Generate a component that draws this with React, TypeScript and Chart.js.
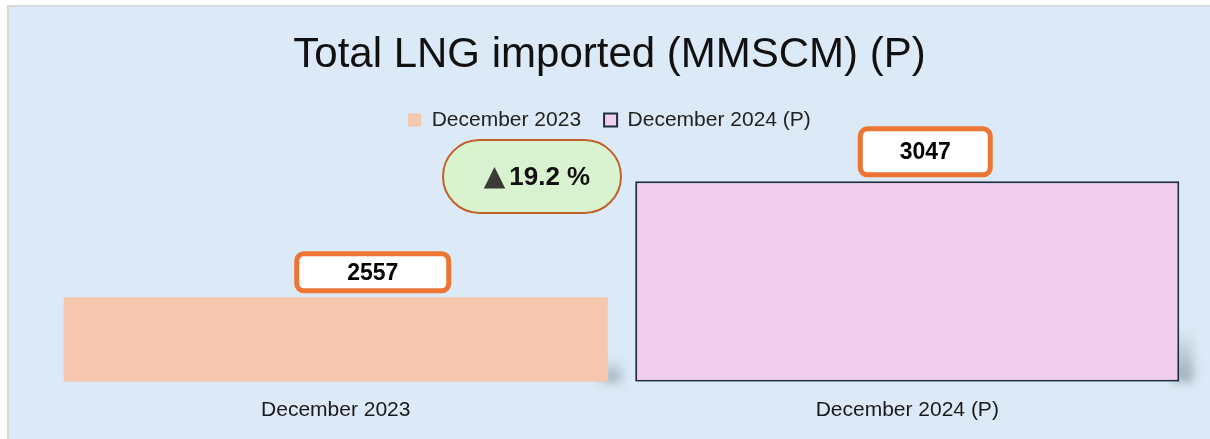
import React, { useEffect, useRef } from "react";
import { Chart, registerables } from "chart.js";

Chart.register(...registerables);

// ---- data ----
const categories = ["December 2023", "December 2024 (P)"];
const seriesNames = ["December 2023", "December 2024 (P)"];
const dec2023Values = [2557, null];
const dec2024Values = [null, 3047];
const chartTitle = "Total LNG imported (MMSCM) (P)";
const yMin = 2200;
const yMax = 3220;

// ---- styles ----
const FONT = "'Liberation Sans', Arial, 'DejaVu Sans', sans-serif";
const barColors = ["#f5c7ae", "#f1cdee"];
const barBorderColors = ["rgba(0,0,0,0)", "#1f2d3d"];
const barBorderWidths = [0, 2];
// label box styles per series (size, horizontal offset from bar centre)
const labelBoxW = [157, 135];
const labelBoxH = [42, 51];
const labelOffsetX = [37, 18];
const labelGap = 4;

const labelPlugin = {
  id: "valueBoxes",
  beforeDatasetsDraw(chart: any) {
    const ctx = chart.ctx;
    chart.data.datasets.forEach((ds: any, di: number) => {
      const meta = chart.getDatasetMeta(di);
      meta.data.forEach((el: any, i: number) => {
        if (ds.data[i] == null) return;
        const h = el.base - el.y;
        const sh = h * 0.26;
        const right = el.x + el.width / 2;
        ctx.save();
        ctx.filter = "blur(5px)";
        const g = ctx.createLinearGradient(0, el.base - sh, 0, el.base);
        g.addColorStop(0, "rgba(90,105,120,0)");
        g.addColorStop(1, "rgba(90,105,120,0.5)");
        ctx.fillStyle = g;
        ctx.fillRect(right - 6, el.base - sh, 20, sh);
        ctx.restore();
      });
    });
  },
  afterDatasetsDraw(chart: any) {
    const ctx = chart.ctx;
    chart.data.datasets.forEach((ds: any, di: number) => {
      const meta = chart.getDatasetMeta(di);
      meta.data.forEach((el: any, i: number) => {
        const v = ds.data[i];
        if (v == null) return;
        const w = labelBoxW[di];
        const h = labelBoxH[di];
        const cx = el.x + labelOffsetX[di];
        const bottom = el.y - labelGap;
        const top = bottom - h;
        const lw = 5;
        ctx.save();
        ctx.beginPath();
        ctx.roundRect(cx - w / 2 + lw / 2, top + lw / 2, w - lw, h - lw, 7);
        ctx.fillStyle = "#ffffff";
        ctx.fill();
        ctx.lineWidth = lw;
        ctx.strokeStyle = "#ed7533";
        ctx.stroke();
        ctx.fillStyle = "#000000";
        ctx.font = `bold 23px ${FONT}`;
        ctx.textAlign = "center";
        ctx.textBaseline = "middle";
        ctx.fillText(String(v), cx, top + h / 2 + 1);
        ctx.restore();
      });
    });

    // change pill
    const a = dec2023Values[0] as number;
    const b = dec2024Values[1] as number;
    const pct = ((b - a) / a) * 100;
    const area = chart.chartArea;
    const pcx = area.left + (area.right - area.left) * 0.4217;
    const pcy = area.top + 36;
    const pw = 178;
    const ph = 73;
    ctx.save();
    ctx.beginPath();
    ctx.roundRect(pcx - pw / 2, pcy - ph / 2, pw, ph, ph / 2);
    ctx.fillStyle = "#d9f2d0";
    ctx.fill();
    ctx.lineWidth = 2;
    ctx.strokeStyle = "#c0602a";
    ctx.stroke();
    const txt = `${pct.toFixed(1)} %`;
    ctx.font = `bold 26px ${FONT}`;
    const tw = ctx.measureText(txt).width;
    ctx.font = `28px 'DejaVu Sans', sans-serif`;
    const triW = ctx.measureText("▲").width;
    const gap = 4;
    const total = triW + gap + tw;
    const startX = pcx + 5 - total / 2;
    ctx.textBaseline = "middle";
    ctx.textAlign = "left";
    ctx.fillStyle = "#3a3a36";
    ctx.fillText("▲", startX, pcy + 1);
    ctx.font = `bold 26px ${FONT}`;
    ctx.fillStyle = "#111111";
    ctx.fillText(txt, startX + triW + gap, pcy + 1);
    ctx.restore();
  },
};

export default function App() {
  const ref = useRef<HTMLCanvasElement>(null);
  useEffect(() => {
    if (!ref.current) return;
    Chart.defaults.font.family = FONT;
    const chart = new Chart(ref.current, {
      type: "bar",
      data: {
        labels: categories,
        datasets: [
          {
            label: seriesNames[0],
            data: dec2023Values,
            backgroundColor: barColors[0],
            borderColor: barBorderColors[0],
            borderWidth: barBorderWidths[0],
            borderSkipped: false,
            base: yMin,
          } as any,
          {
            label: seriesNames[1],
            data: dec2024Values,
            backgroundColor: barColors[1],
            borderColor: barBorderColors[1],
            borderWidth: barBorderWidths[1],
            borderSkipped: false,
            base: yMin,
          } as any,
        ],
      },
      options: {
        animation: false,
        responsive: false,
        devicePixelRatio: 1,
        layout: { padding: { left: 17, right: 17, top: 0, bottom: 0 } },
        datasets: {
          bar: { grouped: false, barPercentage: 0.952, categoryPercentage: 1 },
        } as any,
        plugins: {
          title: {
            display: true,
            text: chartTitle,
            color: "#111111",
            font: { size: 42, weight: "normal", family: FONT },
            padding: { top: 23, bottom: 6 },
          },
          legend: {
            display: true,
            position: "top",
            labels: {
              color: "#222222",
              font: { size: 21, family: FONT },
              boxWidth: 13,
              boxHeight: 13,
              padding: 23,
            },
          },
          tooltip: { enabled: false },
        },
        scales: {
          x: {
            grid: { display: false, drawTicks: false },
            border: { display: false },
            ticks: { color: "#1a1a1a", font: { size: 21, family: FONT }, padding: 16 },
          },
          y: {
            display: true,
            min: yMin,
            max: yMax,
            grid: { display: false, drawTicks: false },
            border: { display: false },
            ticks: { display: false },
            afterFit: (s: any) => {
              s.width = 24;
            },
          },
        },
      },
      plugins: [labelPlugin],
    });
    return () => chart.destroy();
  }, []);

  return (
    <div style={{ position: "absolute", left: 0, top: 0, width: 1210, height: 439, background: "#ffffff", overflow: "hidden" }}>
      <div
        style={{
          position: "absolute",
          left: 7,
          top: 5,
          width: 1203,
          height: 434,
          background: "#dce9f6",
          borderTop: "2px solid #d7d7d7",
          borderLeft: "2px solid #d7d7d7",
          boxSizing: "border-box",
        }}
      >
        <canvas ref={ref} width={1201} height={432} style={{ display: "block", width: 1201, height: 432 }} />
      </div>
    </div>
  );
}
